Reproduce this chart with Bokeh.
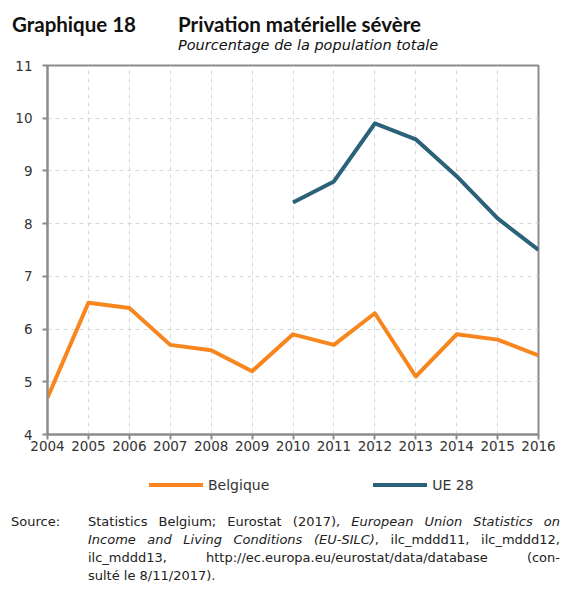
from bokeh.plotting import figure
from bokeh.models import Legend, FixedTicker, Range1d, Div
from bokeh.layouts import column
from bokeh.embed import file_html
from bokeh.resources import INLINE

years = [2004, 2005, 2006, 2007, 2008, 2009, 2010, 2011, 2012, 2013, 2014, 2015, 2016]
belgique = [4.7, 6.5, 6.4, 5.7, 5.6, 5.2, 5.9, 5.7, 6.3, 5.1, 5.9, 5.8, 5.5]
ue_years = [2010, 2011, 2012, 2013, 2014, 2015, 2016]
ue28 = [8.4, 8.8, 9.9, 9.6, 8.9, 8.1, 7.5]
y_ticks = [4, 5, 6, 7, 8, 9, 10, 11]

FONT = "DejaVu Sans"
ORANGE = "#F7861F"
BLUE = "#2B6179"
GRAY = "#8c8c8c"

title = Div(width=565, height=57, margin=0, text="""
<div style="position:relative;width:565px;height:57px;color:#111;">
  <div style="position:absolute;left:12px;top:12px;font-family:'Lato';font-size:20.5px;line-height:24px;font-weight:bold;white-space:nowrap;">Graphique 18</div>
  <div style="position:absolute;left:178px;top:12px;font-family:'Lato';font-size:20.5px;line-height:24px;font-weight:bold;white-space:nowrap;">Privation matérielle sévère</div>
  <div style="position:absolute;left:178px;top:36px;font-family:'DejaVu Sans';font-size:14.5px;line-height:18px;font-style:italic;white-space:nowrap;">Pourcentage de la population totale</div>
</div>""")

p = figure(width=565, height=401, output_backend="svg", toolbar_location=None,
           x_range=Range1d(2004, 2016), y_range=Range1d(4, 11),
           min_border_left=47, min_border_right=27, min_border_top=8, min_border_bottom=24)
p.outline_line_color = GRAY
p.outline_line_width = 2
p.background_fill_color = "white"
p.border_fill_color = "white"

for ax in (p.xaxis[0], p.yaxis[0]):
    ax.axis_line_color = GRAY
    ax.axis_line_width = 2
    ax.major_tick_line_color = GRAY
    ax.major_tick_line_width = 2
    ax.major_tick_out = 5
    ax.major_tick_in = 0
    ax.minor_tick_line_color = None
    ax.major_label_text_font = FONT
    ax.major_label_text_font_size = "13.5px"
    ax.major_label_text_color = "#333333"
p.xaxis.ticker = FixedTicker(ticks=years)
p.yaxis.ticker = FixedTicker(ticks=y_ticks)
p.xaxis.major_label_standoff = 1
p.yaxis.major_label_standoff = 10

for g in (p.xgrid[0], p.ygrid[0]):
    g.grid_line_color = "#d6d6d6"
    g.grid_line_dash = "4 4"
    g.grid_line_width = 1

p.line(years, belgique, line_color=ORANGE, line_width=4, line_join="round")
p.line(ue_years, ue28, line_color=BLUE, line_width=4, line_join="round")

# legend strip: same series drawn again, its frame shows only the legend
lg = figure(width=565, height=56, output_backend="svg", toolbar_location=None,
            x_range=Range1d(0, 1), y_range=Range1d(0, 1),
            x_axis_location=None, y_axis_location=None,
            min_border_left=0, min_border_right=0, min_border_top=0, min_border_bottom=0)
lg.outline_line_color = None
lg.xgrid.visible = False
lg.ygrid.visible = False
lr1 = lg.line(years, belgique, line_color=ORANGE, line_width=4, line_cap="round")
lr2 = lg.line(ue_years, ue28, line_color=BLUE, line_width=4, line_cap="round")
legend = Legend(items=[("Belgique", [lr1]), ("UE 28", [lr2])],
                orientation="horizontal", location=(102, 21),
                glyph_width=54, glyph_height=17, label_standoff=5, spacing=104,
                padding=0, margin=0, border_line_color=None, background_fill_alpha=0,
                label_text_font=FONT, label_text_font_size="14px", label_text_color="#333333")
lg.add_layout(legend, "center")

line_style = "text-align:justify;text-align-last:justify;"
src = Div(width=565, height=70, margin=0, text=f"""
<div style="font-family:'DejaVu Sans';font-size:13px;color:#222;line-height:18px;display:flex;padding-left:11px;margin-top:-2px;">
  <div style="width:77px;flex:none;">Source:</div>
  <div style="width:472px;flex:none;">
    <div style="{line_style}">Statistics Belgium; Eurostat (2017), <i>European Union Statistics on</i></div>
    <div style="{line_style}"><i>Income and Living Conditions (EU-SILC)</i>, ilc_mddd11, ilc_mddd12,</div>
    <div style="{line_style}">ilc_mddd13, http://ec.europa.eu/eurostat/data/database (con-</div>
    <div>sulté le 8/11/2017).</div>
  </div>
</div>""")

layout = column(title, p, lg, src, spacing=0)
open("out.html", "w").write(file_html(layout, INLINE))
